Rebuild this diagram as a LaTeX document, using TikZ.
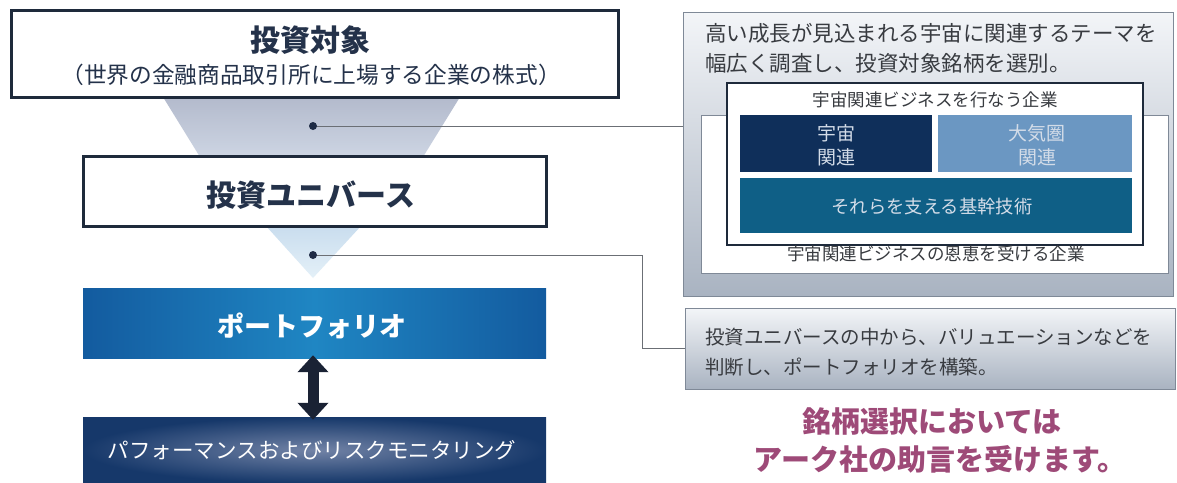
\documentclass[tikz,border=0pt]{standalone}
\usepackage{fontspec}
\setmainfont{Noto Sans CJK JP}
\usetikzlibrary{arrows.meta}
\definecolor{boxline}{HTML}{1E2A3B}
\definecolor{boxtext}{HTML}{24324A}
\definecolor{funtop}{HTML}{B3BACC}
\definecolor{funbot}{HTML}{CDD5E3}
\definecolor{tritop}{HTML}{C9DDEE}
\definecolor{tribot}{HTML}{E4F0F8}
\definecolor{pfside}{HTML}{135B9F}
\definecolor{pfmid}{HTML}{1F86C3}
\definecolor{pmout}{HTML}{16386A}
\definecolor{pmin}{HTML}{7283A6}
\definecolor{arrowc}{HTML}{1A2234}
\definecolor{connc}{HTML}{6B6F75}
\definecolor{dotc}{HTML}{1E2B45}
\definecolor{graytop}{HTML}{F3F5F8}
\definecolor{graybot}{HTML}{A9B3C1}
\definecolor{grayline}{HTML}{7F8997}
\definecolor{navyblk}{HTML}{0F2F5A}
\definecolor{lightblk}{HTML}{6B97C2}
\definecolor{tealblk}{HTML}{0F5F86}
\definecolor{blktext}{HTML}{D3DCE8}
\definecolor{bodytext}{HTML}{383B40}
\definecolor{pinktext}{HTML}{9E4A78}
\tikzset{
  whitebox/.style={draw=boxline, line width=3pt, fill=white, inner sep=0pt, rectangle},
  titletext/.style={font=\bfseries\fontsize{30}{33}\selectfont, text=boxtext, inner sep=0pt},
  subtext/.style={font=\fontsize{22.7}{25}\selectfont, text=boxtext, inner sep=0pt},
  conn/.style={draw=connc, line width=1pt},
  graybox/.style={draw=grayline, line width=1pt, top color=graytop, bottom color=graybot, inner sep=0pt, rectangle},
  bodyt/.style={font=\fontsize{21.5}{24}\selectfont, text=bodytext, inner sep=0pt, anchor=west},
  smallt/.style={font=\fontsize{17.5}{20}\selectfont, text=bodytext, inner sep=0pt},
  blk/.style={inner sep=0pt, rectangle, draw=none},
  blkt/.style={font=\fontsize{19}{24}\selectfont, text=blktext, inner sep=0pt, align=center},
  pinkt/.style={font=\bfseries\fontsize{29}{32}\selectfont, text=pinktext, inner sep=0pt},
}
\begin{document}
\begin{tikzpicture}[x=1pt,y=-1pt]
\fill[white] (0,0) rectangle (1177,482);
\useasboundingbox (0,0) rectangle (1177,482);
% funnel shapes
\shade[top color=funtop, bottom color=funbot] (163,97) -- (460,97) -- (423,157) -- (200,157) -- cycle;
\shade[top color=tritop, bottom color=tribot] (266,226) -- (361,226) -- (313,278) -- cycle;
% left column boxes
\node[whitebox, minimum width=607pt, minimum height=87pt] (target) at (314.5,53.5) {};
\node[titletext] (targett) at (310,40) {投資対象};
\node[subtext] (targets) at (311,75) {（世界の金融商品取引所に上場する企業の株式）};
\node[whitebox, minimum width=463pt, minimum height=70pt] (univ) at (314.5,191) {};
\node[titletext] (univt) at (311,195) {投資ユニバース};
\node[blk, minimum width=463pt, minimum height=70pt, left color=pfside, right color=pfside, middle color=pfmid] (pf) at (314.5,323) {};
\node[font=\bfseries\fontsize{27}{30}\selectfont, text=white, inner sep=0pt] (pft) at (312,326) {ポートフォリオ};
\node[blk, minimum width=463pt, minimum height=66pt, inner color=pmin, outer color=pmout] (perf) at (314.5,450) {};
\node[font=\fontsize{21.5}{24}\selectfont, text=white, inner sep=0pt] (perft) at (312,450) {パフォーマンスおよびリスクモニタリング};
\draw[arrowc, line width=11pt, {Triangle[width=30pt,length=17pt]}-{Triangle[width=30pt,length=17pt]}] ([xshift=-1.5pt,yshift=3pt]pf.south) -- ([xshift=-1.5pt,yshift=-3pt]perf.north);
% right column
\node[graybox, minimum width=490pt, minimum height=284pt] (big) at (928,154) {};
\node[bodyt] (bigt1) at (705,33) {高い成長が見込まれる宇宙に関連するテーマを};
\node[bodyt] (bigt2) at (705,63) {幅広く調査し、投資対象銘柄を選別。};
\node[draw=grayline, line width=1pt, fill=white, inner sep=0pt, minimum width=467pt, minimum height=158pt] (benefit) at (934.5,194) {};
\node[draw=boxline, line width=1.5pt, fill=white, inner sep=0pt, minimum width=416pt, minimum height=162pt] (space) at (935,164) {};
\node[smallt] (spacet) at (935,100) {宇宙関連ビジネスを行なう企業};
\node[blk, fill=navyblk, minimum width=192pt, minimum height=57pt] (sp) at (836,143.5) {};
\node[blkt] (spt) at (836,145) {宇宙\\関連};
\node[blk, fill=lightblk, minimum width=194pt, minimum height=57pt] (atm) at (1035,143.5) {};
\node[blkt] (atmt) at (1037,145) {大気圏\\関連};
\node[blk, fill=tealblk, minimum width=392pt, minimum height=55pt] (tech) at (936,205.5) {};
\node[font=\fontsize{18.3}{22}\selectfont, text=blktext, inner sep=0pt] (techt) at (932,207) {それらを支える基幹技術};
\node[smallt] (benefitt) at (936,254) {宇宙関連ビジネスの恩恵を受ける企業};
\node[graybox, minimum width=490pt, minimum height=81pt] (lower) at (930,348.5) {};
\node[bodyt, font=\fontsize{19.5}{24}\selectfont] (lowt1) at (705,337) {投資ユニバースの中から、バリュエーションなどを};
\node[bodyt, font=\fontsize{19.5}{24}\selectfont] (lowt2) at (705,367) {判断し、ポートフォリオを構築。};
\node[pinkt] (pink1) at (932,422) {銘柄選択においては};
\node[pinkt] (pink2) at (940,459) {アーク社の助言を受けます。};
% connectors
\coordinate (dot1) at (313,126);
\coordinate (dot2) at (313,255);
\coordinate (bend) at (642,255);
\draw[conn] (dot1) -- (dot1 -| big.west);
\draw[conn] (dot2) -- (bend) |- (lower.west);
\fill[dotc] (dot1) circle (4pt);
\fill[dotc] (dot2) circle (4pt);
\end{tikzpicture}
\end{document}
